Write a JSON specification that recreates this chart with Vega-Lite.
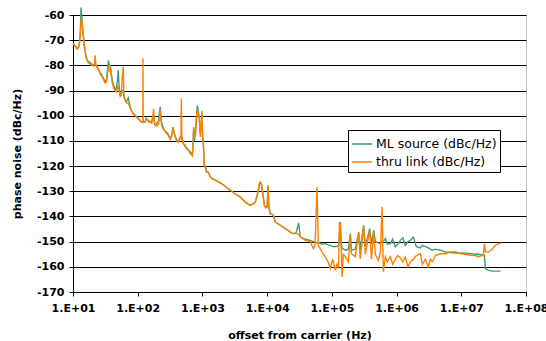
{
  "$schema": "https://vega.github.io/schema/vega-lite/v6.json",
  "width": 453,
  "height": 277,
  "autosize": {"type": "none"},
  "padding": {"left": 73, "top": 15, "right": 20, "bottom": 49},
  "background": "white",
  "config": {
    "view": {"stroke": "#c0c0c0", "strokeWidth": 1},
    "font": "DejaVu Sans"
  },
  "data": {
    "values": [
      {"f": 10, "ml": -71.5, "thru": -71.3},
      {"f": 10.5, "ml": -72, "thru": -72},
      {"f": 11, "ml": -72.5, "thru": -72.8},
      {"f": 11.6, "ml": -73.3, "thru": -73.5},
      {"f": 12.2, "ml": -72.8, "thru": -73},
      {"f": 12.6, "ml": -71, "thru": -71.5},
      {"f": 13, "ml": -66, "thru": -68},
      {"f": 13.3, "ml": -57, "thru": -63},
      {"f": 13.6, "ml": -60, "thru": -61},
      {"f": 13.9, "ml": -64, "thru": -63.5},
      {"f": 14.4, "ml": -68, "thru": -68},
      {"f": 15, "ml": -72.5, "thru": -72.5},
      {"f": 16, "ml": -77, "thru": -77},
      {"f": 17.2, "ml": -78.5, "thru": -79},
      {"f": 18.5, "ml": -79, "thru": -79.5},
      {"f": 19.5, "ml": -79.5, "thru": -80},
      {"f": 20.6, "ml": -80, "thru": -80.3},
      {"f": 21.5, "ml": -79.5, "thru": -79.5},
      {"f": 22, "ml": -78.5, "thru": -76},
      {"f": 22.6, "ml": -80, "thru": -80},
      {"f": 23.8, "ml": -80.6, "thru": -81},
      {"f": 25, "ml": -82, "thru": -82},
      {"f": 26.4, "ml": -83, "thru": -83.5},
      {"f": 28, "ml": -84, "thru": -84.5},
      {"f": 29.4, "ml": -85, "thru": -85.5},
      {"f": 31.5, "ml": -86.6, "thru": -87},
      {"f": 33, "ml": -85.5, "thru": -86.5},
      {"f": 34, "ml": -82, "thru": -84},
      {"f": 35.2, "ml": -78, "thru": -80},
      {"f": 36.5, "ml": -80, "thru": -82},
      {"f": 37.8, "ml": -80, "thru": -81},
      {"f": 39, "ml": -83, "thru": -84},
      {"f": 40.5, "ml": -86, "thru": -87},
      {"f": 42.5, "ml": -88, "thru": -89},
      {"f": 45, "ml": -89.9, "thru": -90},
      {"f": 47, "ml": -89, "thru": -90.5},
      {"f": 48.5, "ml": -86, "thru": -89},
      {"f": 50, "ml": -82, "thru": -88},
      {"f": 51.5, "ml": -88, "thru": -90},
      {"f": 53.8, "ml": -92, "thru": -92},
      {"f": 56, "ml": -91, "thru": -92},
      {"f": 57.5, "ml": -90, "thru": -85},
      {"f": 59.8, "ml": -90, "thru": -80.6},
      {"f": 61, "ml": -92, "thru": -91},
      {"f": 62, "ml": -93, "thru": -93},
      {"f": 64.3, "ml": -94, "thru": -94},
      {"f": 67, "ml": -94.5, "thru": -95},
      {"f": 71.6, "ml": -93, "thru": -95},
      {"f": 74, "ml": -95, "thru": -96},
      {"f": 79.6, "ml": -97.8, "thru": -98},
      {"f": 85, "ml": -99, "thru": -99.3},
      {"f": 91.8, "ml": -99.8, "thru": -100},
      {"f": 98.6, "ml": -100.6, "thru": -100.8},
      {"f": 105, "ml": -101.5, "thru": -101.5},
      {"f": 109.6, "ml": -102.2, "thru": -102.2},
      {"f": 117, "ml": -102.5, "thru": -102.5},
      {"f": 120, "ml": -102.5, "thru": -102.5},
      {"f": 120.8, "ml": -102.5, "thru": -77.2},
      {"f": 121.6, "ml": -102.5, "thru": -102},
      {"f": 124, "ml": -102.7, "thru": -102.7},
      {"f": 131, "ml": -102.5, "thru": -102.3},
      {"f": 135, "ml": -101, "thru": -101.5},
      {"f": 140.6, "ml": -101.5, "thru": -101.5},
      {"f": 148, "ml": -102, "thru": -102.5},
      {"f": 156.7, "ml": -102.5, "thru": -102.5},
      {"f": 165, "ml": -102, "thru": -103},
      {"f": 170, "ml": -100.5, "thru": -101.5},
      {"f": 176, "ml": -100, "thru": -97.2},
      {"f": 181, "ml": -103, "thru": -102},
      {"f": 187, "ml": -103.8, "thru": -104},
      {"f": 198, "ml": -103, "thru": -104},
      {"f": 210, "ml": -102, "thru": -103.5},
      {"f": 218, "ml": -98, "thru": -100},
      {"f": 223, "ml": -96.5, "thru": -97.8},
      {"f": 229, "ml": -101, "thru": -102},
      {"f": 235, "ml": -103, "thru": -104},
      {"f": 249, "ml": -105, "thru": -105.5},
      {"f": 262, "ml": -106, "thru": -106},
      {"f": 277, "ml": -106.5, "thru": -107},
      {"f": 290, "ml": -107, "thru": -107.5},
      {"f": 305, "ml": -108, "thru": -108.5},
      {"f": 319, "ml": -109, "thru": -109.5},
      {"f": 336, "ml": -108, "thru": -108},
      {"f": 350, "ml": -104.5, "thru": -105},
      {"f": 360, "ml": -106, "thru": -106},
      {"f": 381, "ml": -108.4, "thru": -108.5},
      {"f": 400, "ml": -109.5, "thru": -110},
      {"f": 425, "ml": -110.4, "thru": -110.5},
      {"f": 446, "ml": -109, "thru": -109.5},
      {"f": 465, "ml": -108, "thru": -108.5},
      {"f": 472, "ml": -108.5, "thru": -93.2},
      {"f": 480, "ml": -109, "thru": -108},
      {"f": 507, "ml": -111, "thru": -111},
      {"f": 535, "ml": -112, "thru": -111.5},
      {"f": 564, "ml": -112.5, "thru": -113},
      {"f": 600, "ml": -113.5, "thru": -113.5},
      {"f": 650, "ml": -114.4, "thru": -115},
      {"f": 698, "ml": -115.5, "thru": -116},
      {"f": 715, "ml": -112, "thru": -112},
      {"f": 731, "ml": -105, "thru": -104.5},
      {"f": 750, "ml": -110, "thru": -108},
      {"f": 777, "ml": -107, "thru": -108},
      {"f": 805, "ml": -101, "thru": -103},
      {"f": 834, "ml": -96, "thru": -97.8},
      {"f": 860, "ml": -98, "thru": -99},
      {"f": 895, "ml": -101, "thru": -101},
      {"f": 927, "ml": -107, "thru": -108.4},
      {"f": 960, "ml": -104, "thru": -103},
      {"f": 980, "ml": -99, "thru": -98},
      {"f": 1000, "ml": -108, "thru": -106},
      {"f": 1033, "ml": -111, "thru": -111},
      {"f": 1069, "ml": -119.7, "thru": -119.5},
      {"f": 1109, "ml": -120.4, "thru": -120.5},
      {"f": 1148, "ml": -122, "thru": -122.3},
      {"f": 1233, "ml": -122.5, "thru": -122.5},
      {"f": 1324, "ml": -124.3, "thru": -124.3},
      {"f": 1420, "ml": -125, "thru": -125},
      {"f": 1580, "ml": -125.6, "thru": -125.6},
      {"f": 1890, "ml": -126.7, "thru": -126.7},
      {"f": 2200, "ml": -127.8, "thru": -127.8},
      {"f": 2700, "ml": -129.6, "thru": -129.6},
      {"f": 3100, "ml": -130.8, "thru": -130.8},
      {"f": 3855, "ml": -132.3, "thru": -132.3},
      {"f": 4600, "ml": -134.3, "thru": -134.3},
      {"f": 5500, "ml": -135.6, "thru": -135.6},
      {"f": 6100, "ml": -135, "thru": -135},
      {"f": 6577, "ml": -134.3, "thru": -134},
      {"f": 7000, "ml": -132, "thru": -131.5},
      {"f": 7311, "ml": -129.6, "thru": -129},
      {"f": 7600, "ml": -127, "thru": -127},
      {"f": 7850, "ml": -126.5, "thru": -126.3},
      {"f": 8100, "ml": -127, "thru": -126.8},
      {"f": 8430, "ml": -129.6, "thru": -129.6},
      {"f": 8800, "ml": -133, "thru": -133},
      {"f": 9060, "ml": -135.6, "thru": -135.6},
      {"f": 9500, "ml": -136.5, "thru": -136.5},
      {"f": 10000, "ml": -136, "thru": -136.5},
      {"f": 10330, "ml": -127.7, "thru": -127.7},
      {"f": 10600, "ml": -136, "thru": -136.5},
      {"f": 11220, "ml": -138.9, "thru": -138.9},
      {"f": 12470, "ml": -139.5, "thru": -139.5},
      {"f": 13400, "ml": -142.2, "thru": -142.2},
      {"f": 16000, "ml": -143.5, "thru": -143.5},
      {"f": 19100, "ml": -144.8, "thru": -144.8},
      {"f": 22860, "ml": -146.2, "thru": -146.2},
      {"f": 25000, "ml": -146.8, "thru": -146.8},
      {"f": 28000, "ml": -146.5, "thru": -146.8},
      {"f": 30700, "ml": -142.6, "thru": -147},
      {"f": 32600, "ml": -148.2, "thru": -148.2},
      {"f": 39000, "ml": -149, "thru": -149.5},
      {"f": 46560, "ml": -149.5, "thru": -150},
      {"f": 51760, "ml": -150, "thru": -152.8},
      {"f": 55000, "ml": -150.2, "thru": -151.5},
      {"f": 59000, "ml": -150.5, "thru": -128.3},
      {"f": 61800, "ml": -150.2, "thru": -151.5},
      {"f": 70000, "ml": -151, "thru": -154},
      {"f": 79400, "ml": -150.8, "thru": -156},
      {"f": 87000, "ml": -151.3, "thru": -158},
      {"f": 94800, "ml": -151.5, "thru": -160.6},
      {"f": 103000, "ml": -152, "thru": -157},
      {"f": 113200, "ml": -152, "thru": -161.4},
      {"f": 120000, "ml": -152, "thru": -159},
      {"f": 127000, "ml": -151.5, "thru": -160},
      {"f": 130600, "ml": -148, "thru": -142.2},
      {"f": 135200, "ml": -142.2, "thru": -143.5},
      {"f": 140000, "ml": -151, "thru": -154},
      {"f": 143900, "ml": -152.5, "thru": -164},
      {"f": 150000, "ml": -153, "thru": -155},
      {"f": 161800, "ml": -153.4, "thru": -156},
      {"f": 180000, "ml": -153, "thru": -158},
      {"f": 193000, "ml": -146.8, "thru": -147.5},
      {"f": 200000, "ml": -153.4, "thru": -154.7},
      {"f": 230700, "ml": -153, "thru": -156},
      {"f": 259400, "ml": -146.2, "thru": -146.5},
      {"f": 275000, "ml": -153, "thru": -157},
      {"f": 309700, "ml": -143.5, "thru": -144},
      {"f": 330000, "ml": -152, "thru": -155},
      {"f": 383700, "ml": -144.8, "thru": -145.5},
      {"f": 410000, "ml": -151, "thru": -157},
      {"f": 442600, "ml": -145.5, "thru": -146},
      {"f": 470000, "ml": -150, "thru": -155},
      {"f": 523600, "ml": -150.5, "thru": -157.5},
      {"f": 562300, "ml": -150.8, "thru": -154.1},
      {"f": 597000, "ml": -150, "thru": -136.2},
      {"f": 625000, "ml": -150, "thru": -162},
      {"f": 671000, "ml": -148.8, "thru": -156},
      {"f": 720000, "ml": -151, "thru": -158},
      {"f": 801000, "ml": -150.8, "thru": -156},
      {"f": 870000, "ml": -149, "thru": -159},
      {"f": 957000, "ml": -152.1, "thru": -157},
      {"f": 1040000, "ml": -151, "thru": -155.5},
      {"f": 1146000, "ml": -149.5, "thru": -156.5},
      {"f": 1250000, "ml": -148.5, "thru": -158},
      {"f": 1368000, "ml": -151.5, "thru": -156.1},
      {"f": 1500000, "ml": -150, "thru": -160},
      {"f": 1633000, "ml": -149.5, "thru": -158.1},
      {"f": 1820000, "ml": -148.2, "thru": -157},
      {"f": 2023000, "ml": -152, "thru": -155.5},
      {"f": 2333000, "ml": -152.5, "thru": -154.8},
      {"f": 2500000, "ml": -151.5, "thru": -159},
      {"f": 2786000, "ml": -152, "thru": -157},
      {"f": 3100000, "ml": -152.5, "thru": -160},
      {"f": 3327000, "ml": -153, "thru": -157},
      {"f": 3573000, "ml": -153.4, "thru": -158},
      {"f": 4000000, "ml": -153, "thru": -155.5},
      {"f": 4753000, "ml": -153.4, "thru": -154.8},
      {"f": 5675000, "ml": -154.1, "thru": -154.8},
      {"f": 6776000, "ml": -154.3, "thru": -154.1},
      {"f": 8110000, "ml": -154.5, "thru": -154},
      {"f": 9680000, "ml": -154.5, "thru": -154.8},
      {"f": 11560000, "ml": -154.6, "thru": -155},
      {"f": 13840000, "ml": -154.8, "thru": -155.4},
      {"f": 16520000, "ml": -155, "thru": -155.5},
      {"f": 18370000, "ml": -155, "thru": -156},
      {"f": 21180000, "ml": -155.3, "thru": -155.4},
      {"f": 22000000, "ml": -155.3, "thru": -155.5},
      {"f": 22760000, "ml": -155.5, "thru": -150.8},
      {"f": 23600000, "ml": -160.7, "thru": -154},
      {"f": 26240000, "ml": -161.4, "thru": -154.1},
      {"f": 30000000, "ml": -161.7, "thru": -153},
      {"f": 33650000, "ml": -161.7, "thru": -151.5},
      {"f": 40180000, "ml": -161.7, "thru": -150.5}
    ]
  },
  "transform": [
    {"fold": ["ml", "thru"], "as": ["key", "noise"]}
  ],
  "mark": {"type": "line", "strokeWidth": 1.4, "clip": false},
  "encoding": {
    "x": {
      "field": "f",
      "type": "quantitative",
      "scale": {"type": "log", "domain": [10, 100000000]},
      "axis": {
        "title": "offset from carrier (Hz)",
        "values": [10, 100, 1000, 10000, 100000, 1000000, 10000000, 100000000],
        "labelExpr": "'1.E+0' + round(log(datum.value) / LN10)",
        "grid": false,
        "domainColor": "black",
        "tickColor": "black",
        "tickSize": 4,
        "labelPadding": 6,
        "labelFont": "DejaVu Sans",
        "labelFontSize": 11,
        "labelFontWeight": "bold",
        "labelColor": "black",
        "labelFlush": false,
        "labelOverlap": false,
        "titleFont": "DejaVu Sans",
        "titleFontSize": 11,
        "titleFontWeight": "bold",
        "titleColor": "black",
        "titlePadding": 16
      }
    },
    "y": {
      "field": "noise",
      "type": "quantitative",
      "scale": {"domain": [-170, -60], "nice": false},
      "axis": {
        "title": "phase noise (dBc/Hz)",
        "values": [-170, -160, -150, -140, -130, -120, -110, -100, -90, -80, -70, -60],
        "labelExpr": "'' + datum.value",
        "grid": true,
        "gridColor": "black",
        "gridWidth": 1,
        "gridOpacity": 1,
        "domainColor": "black",
        "tickColor": "black",
        "tickSize": 4,
        "labelPadding": 5,
        "labelFont": "DejaVu Sans",
        "labelFontSize": 11,
        "labelFontWeight": "bold",
        "labelColor": "black",
        "titleFont": "DejaVu Sans",
        "titleFontSize": 11,
        "titleFontWeight": "bold",
        "titleColor": "black",
        "titlePadding": 14
      }
    },
    "color": {
      "field": "key",
      "type": "nominal",
      "scale": {"domain": ["ml", "thru"], "range": ["#3a9f72", "#ff8000"]},
      "legend": {
        "title": null,
        "orient": "none",
        "legendX": 275,
        "legendY": 115,
        "direction": "vertical",
        "labelExpr": "datum.value == 'ml' ? 'ML source (dBc/Hz)' : 'thru link (dBc/Hz)'",
        "symbolType": "stroke",
        "symbolSize": 420,
        "symbolStrokeWidth": 1.5,
        "labelFont": "DejaVu Sans",
        "labelFontSize": 12.5,
        "labelColor": "black",
        "labelOffset": 3,
        "rowPadding": 0,
        "padding": 3,
        "strokeColor": "black",
        "fillColor": "white"
      }
    }
  }
}
